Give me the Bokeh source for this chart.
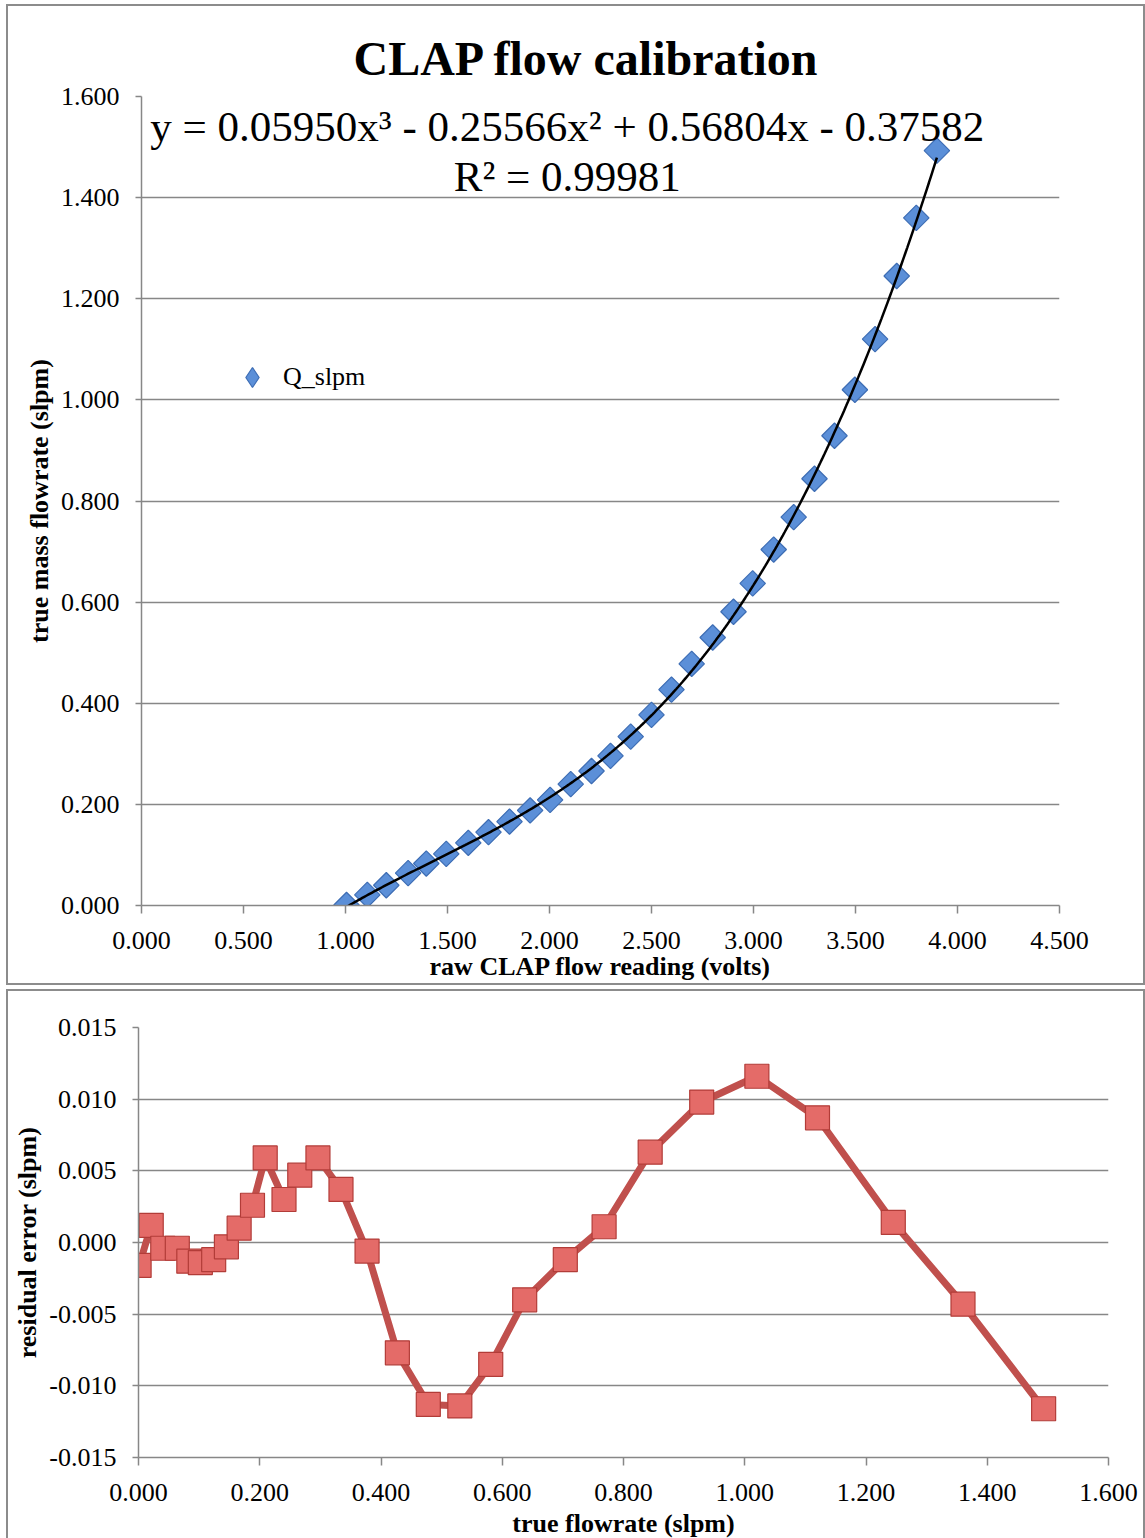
import numpy as np
from bokeh.plotting import figure
from bokeh.models import (FixedTicker, NumeralTickFormatter, Label, Legend,
                          LegendItem, Range1d)
from bokeh.embed import file_html
from bokeh.resources import INLINE

# ---------------- data ----------------
volts = [1.005, 1.107, 1.200, 1.307, 1.396, 1.494, 1.602, 1.701, 1.804, 1.905,
         2.003, 2.104, 2.206, 2.299, 2.398, 2.500, 2.598, 2.697, 2.800, 2.902,
         2.996, 3.099, 3.197, 3.299, 3.397, 3.497, 3.596, 3.702, 3.798, 3.899]
q_slpm = [0.001, 0.021, 0.040, 0.064, 0.083, 0.102, 0.124, 0.145, 0.166, 0.188,
          0.209, 0.240, 0.266, 0.296, 0.334, 0.377, 0.427, 0.478, 0.530, 0.581,
          0.637, 0.704, 0.768, 0.844, 0.929, 1.020, 1.120, 1.245, 1.360, 1.493]
residual = [-0.0016, 0.0012, -0.0004, -0.0004, -0.0013, -0.0014, -0.0012, -0.0003, 0.0010, 0.0026,
            0.0059, 0.0030, 0.0047, 0.0059, 0.0037, -0.0006, -0.0077, -0.0113, -0.0114, -0.0085,
            -0.0040, -0.0012, 0.0011, 0.0063, 0.0098, 0.0116, 0.0087, 0.0014, -0.0043, -0.0116]
fit_coeffs = [0.05950, -0.25566, 0.56804, -0.37582]
r_squared = "0.99981"

top_xticks = [0.0, 0.5, 1.0, 1.5, 2.0, 2.5, 3.0, 3.5, 4.0, 4.5]
top_yticks = [0.0, 0.2, 0.4, 0.6, 0.8, 1.0, 1.2, 1.4, 1.6]
bot_xticks = [0.0, 0.2, 0.4, 0.6, 0.8, 1.0, 1.2, 1.4, 1.6]
bot_yticks = [-0.015, -0.010, -0.005, 0.0, 0.005, 0.010, 0.015]

FONT = "Liberation Serif"
GRID = "#878787"
BLUE_FILL, BLUE_LINE = "#5b8fd8", "#3d6db4"


def style_axes(p, xt, yt):
    for ax in (p.xaxis[0], p.yaxis[0]):
        ax.axis_line_color = GRID
        ax.axis_line_width = 1.5
        ax.major_tick_line_color = GRID
        ax.major_tick_line_width = 1.5
        ax.major_tick_in = 0
        ax.minor_tick_out = 0
        ax.minor_tick_in = 0
        ax.major_label_text_font = FONT
        ax.major_label_text_font_size = "26px"
        ax.major_label_text_color = "black"
        ax.axis_label_text_font = FONT
        ax.axis_label_text_font_size = "26px"
        ax.axis_label_text_font_style = "bold"
        ax.axis_label_text_color = "black"
        ax.formatter = NumeralTickFormatter(format="0.000")
    p.xaxis[0].ticker = FixedTicker(ticks=xt)
    p.yaxis[0].ticker = FixedTicker(ticks=yt)
    p.xaxis[0].major_tick_out = 8
    p.yaxis[0].major_tick_out = 6
    p.xaxis[0].major_label_standoff = 18
    p.yaxis[0].major_label_standoff = 16
    p.xgrid.visible = False
    p.ygrid.ticker = FixedTicker(ticks=yt)
    p.ygrid.grid_line_color = GRID
    p.ygrid.grid_line_width = 1.5
    p.outline_line_color = None


# ---------------- top chart ----------------
p1 = figure(frame_width=918, frame_height=809, x_range=Range1d(0, 4.5), y_range=Range1d(0, 1.6),
            output_backend="svg", toolbar_location=None,
            min_border_left=133, min_border_right=84, min_border_top=90, min_border_bottom=78,
            styles={"border": "2px solid #8c8c8c", "margin-left": "6px", "margin-top": "4px"})
style_axes(p1, top_xticks, top_yticks)
p1.xaxis[0].axis_label = "raw CLAP flow reading (volts)"
p1.yaxis[0].axis_label = "true mass flowrate (slpm)"
p1.xaxis[0].axis_label_standoff = 0
p1.yaxis[0].axis_label_standoff = 4

p1.title.text = "CLAP flow calibration"
p1.title.text_font = FONT
p1.title.text_font_size = "48px"
p1.title.text_font_style = "bold"
p1.title.text_color = "black"
p1.title.align = "left"
p1.title.offset = 212
p1.title.standoff = 24

# diamond key renderer (same data, hidden under the markers) gives the legend its glyph
key = p1.scatter(volts, q_slpm, marker="diamond", size=16,
                 fill_color=BLUE_FILL, line_color=BLUE_LINE, line_width=1.2)
pts = p1.scatter(volts, q_slpm, marker="square", angle=np.pi / 4, size=18,
                 fill_color=BLUE_FILL, line_color=BLUE_LINE, line_width=1.2)

xf = np.linspace(min(volts), max(volts), 300)
p1.line(xf, np.polyval(fit_coeffs, xf), line_color="black", line_width=2.5)

eq = "y = %.5fx³ - %.5fx² + %.5fx - %.5f" % (fit_coeffs[0], -fit_coeffs[1], fit_coeffs[2], -fit_coeffs[3])
p1.add_layout(Label(x=2.087, y=1.541, text=eq, text_font=FONT, text_font_size="43px",
                    text_color="black", text_align="center", text_baseline="middle"))
p1.add_layout(Label(x=2.087, y=1.442, text="R² = " + r_squared, text_font=FONT,
                    text_font_size="43px", text_color="black",
                    text_align="center", text_baseline="middle"))

legend = Legend(items=[LegendItem(label="Q_slpm", renderers=[key])], location=(86, 503),
                padding=0, margin=0, border_line_alpha=0, background_fill_alpha=0,
                glyph_width=50, glyph_height=50, label_standoff=6, label_height=50,
                label_text_font=FONT, label_text_font_size="26px", label_text_color="black")
p1.add_layout(legend)

# ---------------- bottom chart ----------------
p2 = figure(frame_width=970, frame_height=430, x_range=Range1d(0, 1.6), y_range=Range1d(-0.015, 0.015),
            output_backend="svg", toolbar_location=None,
            min_border_left=130, min_border_right=35, min_border_top=36, min_border_bottom=77,
            styles={"border": "2px solid #8c8c8c", "margin-left": "6px", "margin-top": "4px"})
style_axes(p2, bot_xticks, bot_yticks)
p2.xaxis[0].axis_label = "true flowrate (slpm)"
p2.yaxis[0].axis_label = "residual error (slpm)"
p2.xaxis[0].axis_label_standoff = 5
p2.yaxis[0].axis_label_standoff = 4

p2.line(q_slpm, residual, line_color="#c0504d", line_width=7, line_join="round")
p2.scatter(q_slpm, residual, marker="square", size=24,
           fill_color="#e46b68", line_color="#b23c38", line_width=1.2)

open("out.html", "w").write(file_html([p1, p2], INLINE))
